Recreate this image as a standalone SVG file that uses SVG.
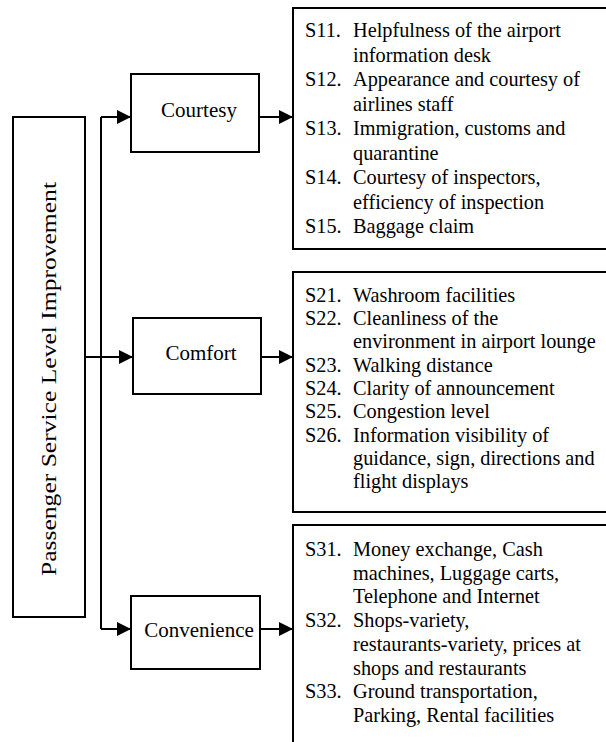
<svg xmlns="http://www.w3.org/2000/svg" width="606" height="742" viewBox="0 0 606 742">
<style>
.box{fill:#fff;stroke:#000;stroke-width:2}
.lbl{font-family:"Liberation Serif","Times New Roman",serif;font-size:21px;fill:#000}
.lst{font-family:"Liberation Serif","Times New Roman",serif;font-size:20.3px;fill:#000}
.ln{stroke:#000;stroke-width:2;fill:none}
</style>
<defs>
<marker id="ah" markerWidth="14" markerHeight="14" refX="14" refY="7" orient="auto" markerUnits="userSpaceOnUse">
<path d="M0,0 L14,7 L0,14 Z" fill="#000"/>
</marker>
</defs>
<g id="connectors">
<path class="ln" d="M101,117 V629"/>
<path class="ln" d="M101,117 H131" marker-end="url(#ah)"/>
<path class="ln" d="M85,357 H133" marker-end="url(#ah)"/>
<path class="ln" d="M101,629 H131" marker-end="url(#ah)"/>
<path class="ln" d="M259,117 H293" marker-end="url(#ah)"/>
<path class="ln" d="M261,357 H293" marker-end="url(#ah)"/>
<path class="ln" d="M260,629 H293" marker-end="url(#ah)"/>
</g>
<g id="root">
<rect class="box" x="13" y="117" width="72" height="500"/>
<text class="lbl" transform="translate(56,379) rotate(-90)" text-anchor="middle" font-size="22" textLength="394" lengthAdjust="spacingAndGlyphs">Passenger Service Level Improvement</text>
</g>
<g id="courtesy">
<rect class="box" x="131" y="74" width="128" height="78"/>
<text class="lbl" x="199" y="117" text-anchor="middle">Courtesy</text>
</g>
<g id="comfort">
<rect class="box" x="133" y="318" width="128" height="76"/>
<text class="lbl" x="201" y="360" text-anchor="middle">Comfort</text>
</g>
<g id="convenience">
<rect class="box" x="131" y="596" width="129" height="73"/>
<text class="lbl" x="199" y="637" text-anchor="middle">Convenience</text>
</g>
<g id="list1">
<rect class="box" x="293" y="8" width="330" height="241"/>
<text class="lst">
<tspan x="305" y="37.3">S11.</tspan><tspan x="353" y="37.3">Helpfulness of the airport</tspan>
<tspan x="353" y="61.8">information desk</tspan>
<tspan x="305" y="86.3">S12.</tspan><tspan x="353" y="86.3">Appearance and courtesy of</tspan>
<tspan x="353" y="110.8">airlines staff</tspan>
<tspan x="305" y="135.3">S13.</tspan><tspan x="353" y="135.3">Immigration, customs and</tspan>
<tspan x="353" y="159.8">quarantine</tspan>
<tspan x="305" y="184.3">S14.</tspan><tspan x="353" y="184.3">Courtesy of inspectors,</tspan>
<tspan x="353" y="208.8">efficiency of inspection</tspan>
<tspan x="305" y="233.3">S15.</tspan><tspan x="353" y="233.3">Baggage claim</tspan>
</text>
</g>
<g id="list2">
<rect class="box" x="293" y="272" width="330" height="240"/>
<text class="lst">
<tspan x="305" y="301.7">S21.</tspan><tspan x="353" y="301.7">Washroom facilities</tspan>
<tspan x="305" y="325">S22.</tspan><tspan x="353" y="325">Cleanliness of the</tspan>
<tspan x="353" y="348.3">environment in airport lounge</tspan>
<tspan x="305" y="371.6">S23.</tspan><tspan x="353" y="371.6">Walking distance</tspan>
<tspan x="305" y="394.9">S24.</tspan><tspan x="353" y="394.9">Clarity of announcement</tspan>
<tspan x="305" y="418.2">S25.</tspan><tspan x="353" y="418.2">Congestion level</tspan>
<tspan x="305" y="441.5">S26.</tspan><tspan x="353" y="441.5">Information visibility of</tspan>
<tspan x="353" y="464.8">guidance, sign, directions and</tspan>
<tspan x="353" y="488.1">flight displays</tspan>
</text>
</g>
<g id="list3">
<rect class="box" x="293" y="525" width="330" height="240"/>
<text class="lst">
<tspan x="305" y="556">S31.</tspan><tspan x="353" y="556">Money exchange, Cash</tspan>
<tspan x="353" y="579.7">machines, Luggage carts,</tspan>
<tspan x="353" y="603.4">Telephone and Internet</tspan>
<tspan x="305" y="627.1">S32.</tspan><tspan x="353" y="627.1">Shops-variety,</tspan>
<tspan x="353" y="650.8">restaurants-variety, prices at</tspan>
<tspan x="353" y="674.5">shops and restaurants</tspan>
<tspan x="305" y="698.2">S33.</tspan><tspan x="353" y="698.2">Ground transportation,</tspan>
<tspan x="353" y="721.9">Parking, Rental facilities</tspan>
</text>
</g>
</svg>
